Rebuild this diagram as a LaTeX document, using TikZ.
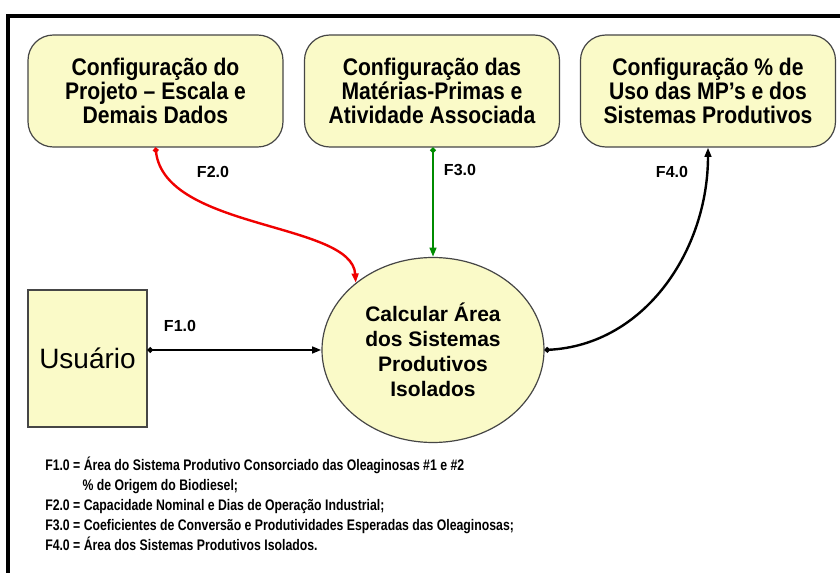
\documentclass[tikz,border=0pt]{standalone}
\usepackage{fontspec}
\setmainfont{Liberation Sans}
\newfontfamily\narrowf[FakeStretch=0.88]{Liberation Sans}
\newfontfamily\legendf[FakeStretch=0.80]{Liberation Sans}
\usetikzlibrary{shapes.geometric,arrows.meta}
\definecolor{boxfill}{RGB}{250,250,200}
\definecolor{boxline}{RGB}{70,70,70}
\definecolor{flowgreen}{RGB}{0,140,0}
\definecolor{flowred}{RGB}{240,0,0}
\tikzset{
  cfg/.style={draw=boxline, line width=0.9pt, fill=boxfill, rounded corners=19pt,
    minimum width=191.25pt, minimum height=84pt, align=center, inner sep=0pt,
    font=\narrowf\bfseries\fontsize{18pt}{18pt}\selectfont},
  proc/.style={ellipse, draw=boxline, line width=0.9pt, fill=boxfill,
    minimum width=166.5pt, minimum height=138.75pt, align=center, inner sep=0pt,
    font=\bfseries\fontsize{15.75pt}{18.75pt}\selectfont},
  ent/.style={draw=boxline, line width=0.9pt, fill=boxfill,
    minimum width=89.25pt, minimum height=102.75pt, inner sep=0pt,
    font=\fontsize{21pt}{24pt}\selectfont},
  flow/.style={line width=1.8pt, {Circle[length=4pt]}-{Triangle[length=7pt,width=5pt]}},
  flab/.style={font=\bfseries\fontsize{12pt}{14pt}\selectfont, inner sep=0pt},
  legend/.style={align=left, inner sep=0pt,
    font=\legendf\bfseries\fontsize{11.5pt}{15pt}\selectfont}
}
\begin{document}
\begin{tikzpicture}[x=0.75pt,y=-0.75pt]
\useasboundingbox (0,0) rectangle (840,573);
\clip (0,0) rectangle (840,573);
\fill[white] (0,0) rectangle (840,573);
\draw[line width=2.4pt] (8,16) rectangle (900,650);

\node[cfg] (b1) at (155.5,91) {Configuração do\\Projeto – Escala e\\Demais Dados};
\node[cfg] (b2) at (432,91) {Configuração das\\Matérias-Primas e\\Atividade Associada};
\node[cfg] (b3) at (708,91) {Configuração \% de\\Uso das MP’s e dos\\Sistemas Produtivos};

\node[ent] (user) at (87.5,358.5) {Usuário};
\node[proc] (calc) at (433,350) {Calcular Área\\dos Sistemas\\Produtivos\\Isolados};

\draw[flow, draw=black] (user.east |- calc.west) -- (calc.west);
\draw[flow, draw=flowred] (b1.south) .. controls (165,230) and (352,222) .. (calc.139);
\draw[flow, draw=flowgreen] (b2.south -| calc.north) -- (calc.north);
\draw[flow, draw=black] (calc.east) .. controls (645,345) and (708,250) .. (b3.south);

\node[flab] (l1) at (180,326) {F1.0};
\node[flab] (l2) at (213,172) {F2.0};
\node[flab] (l3) at (460,170) {F3.0};
\node[flab] (l4) at (672,172) {F4.0};

\node[legend, anchor=north west] (leg) at (45,457) {F1.0 = Área do Sistema Produtivo Consorciado das Oleaginosas \#1 e \#2\\
\hspace*{28pt}\% de Origem do Biodiesel;\\
F2.0 = Capacidade Nominal e Dias de Operação Industrial;\\
F3.0 = Coeficientes de Conversão e Produtividades Esperadas das Oleaginosas;\\
F4.0 = Área dos Sistemas Produtivos Isolados.};
\end{tikzpicture}
\end{document}
